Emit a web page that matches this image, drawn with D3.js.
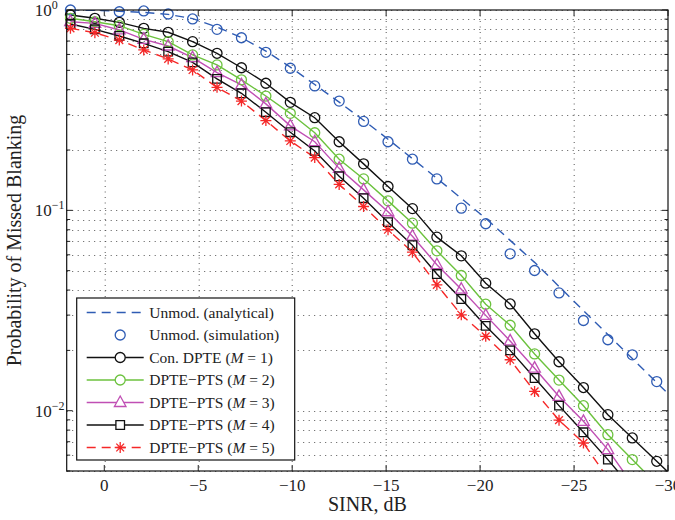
<!DOCTYPE html>
<html>
<head>
<meta charset="utf-8">
<script src="https://cdn.jsdelivr.net/npm/d3@7"></script>
<style>
  body { margin: 0; background: #fff; }
  text { font-family: "Liberation Serif", "Times New Roman", Times, serif; fill: #222; }
</style>
</head>
<body>
<svg id="chart" width="675" height="520" font-family="Liberation Serif, Times New Roman, serif"></svg>
<script>
// SINR sample points (dB), shared by every curve
var sinr = [1.8, 0.5, -0.8, -2.1, -3.4, -4.7, -6.0, -7.3, -8.6, -9.9, -11.2, -12.5, -13.8,
            -15.1, -16.4, -17.7, -19.0, -20.3, -21.6, -22.9, -24.2, -25.5, -26.8, -28.1, -29.4, -30.7];

// Probability of missed blanking
var unmodAnalytical = [1.0, 0.9954, 0.9863, 0.9727, 0.9506, 0.9058, 0.8222, 0.7278, 0.6237, 0.5188,
                       0.4246, 0.3467, 0.2818, 0.2265, 0.1811, 0.1445, 0.1148, 0.0912, 0.0708, 0.0550,
                       0.0417, 0.0316, 0.0240, 0.0182, 0.0138, 0.0105];
var unmodSimulation = [1.0, null, 0.98, 0.989, 0.955, 0.902, 0.801, 0.727, 0.615, 0.512,
                       0.418, 0.351, 0.278, 0.220, 0.180, 0.1435, 0.1025, 0.0857, 0.0607, 0.0501,
                       0.0387, 0.0282, 0.0226, 0.019, 0.01397];
var conDpte = [0.944, 0.909, 0.868, 0.810, 0.774, 0.695, 0.608, 0.515, 0.431, 0.346,
               0.290, 0.220, 0.1706, 0.1315, 0.102, 0.0735, 0.0593, 0.0433, 0.0341, 0.0242,
               0.01755, 0.01305, 0.00955, 0.00731, 0.00559, 0.00428];
var ptsM2 = [0.909, 0.874, 0.835, 0.756, 0.695, 0.597, 0.532, 0.448, 0.372, 0.305,
             0.244, 0.180, 0.1435, 0.1115, 0.0863, 0.0628, 0.0473, 0.0340, 0.0267, 0.0192,
             0.01422, 0.01059, 0.00759, 0.0057, 0.0043];
var ptsM3 = [0.874, 0.858, 0.795, 0.714, 0.661, 0.578, 0.487, 0.423, 0.340, 0.264,
             0.220, 0.162, 0.1265, 0.0984, 0.0743, 0.0535, 0.0404, 0.0299, 0.0223, 0.0163,
             0.01178, 0.00885, 0.00639, 0.0043];
var ptsM4 = [0.851, 0.801, 0.742, 0.682, 0.620, 0.548, 0.453, 0.384, 0.309, 0.2455,
             0.198, 0.148, 0.115, 0.0873, 0.067, 0.0481, 0.0361, 0.0265, 0.020, 0.01456,
             0.0106, 0.0078, 0.0057, 0.0041];
var ptsM5 = [0.810, 0.770, 0.708, 0.632, 0.570, 0.502, 0.411, 0.351, 0.2805, 0.222,
             0.1834, 0.1347, 0.1045, 0.080, 0.0618, 0.0425, 0.0301, 0.0235, 0.01796, 0.01248,
             0.00897, 0.0069, 0.0046];

var xTicks = [0, -5, -10, -15, -20, -25, -30];
var yTicks = [1, 0.1, 0.01];
var yTickExp = ["0", "\u22121", "\u22122"];

// series styling, in drawing order
var series = [
  {values: unmodAnalytical, color: "#2f5cb4", dash: "9,6", line: true,  marker: null},
  {values: unmodSimulation, color: "#2f5cb4", dash: null,  line: false, marker: "circle"},
  {values: conDpte,         color: "#111111", dash: null,  line: true,  marker: "circle"},
  {values: ptsM2,           color: "#6cc23e", dash: null,  line: true,  marker: "circle"},
  {values: ptsM3,           color: "#c04fb4", dash: null,  line: true,  marker: "triangle"},
  {values: ptsM4,           color: "#111111", dash: null,  line: true,  marker: "square"},
  {values: ptsM5,           color: "#f52828", dash: "9,6", line: true,  marker: "star"}
];
var legendLabels = [
  ["Unmod. (analytical)"],
  ["Unmod. (simulation)"],
  ["Con. DPTE (", "M", " = 1)"],
  ["DPTE\u2212PTS (", "M", " = 2)"],
  ["DPTE\u2212PTS (", "M", " = 3)"],
  ["DPTE\u2212PTS (", "M", " = 4)"],
  ["DPTE\u2212PTS (", "M", " = 5)"]
];

var margin = {top: 10, right: 7, bottom: 49, left: 66.7},
    width = 675 - margin.left - margin.right,
    height = 520 - margin.top - margin.bottom;

var svg = d3.select("#chart");
var g = svg.append("g").attr("transform", "translate(" + margin.left + "," + margin.top + ")");

var x = d3.scaleLinear().domain([2, -30]).range([0, width]);
var y = d3.scaleLog().domain([0.005, 1]).range([height, 0]);

// dotted grid
var gridTicks = y.ticks();
g.append("g").selectAll("line").data(gridTicks).enter().append("line")
  .attr("x1", 0).attr("x2", width)
  .attr("y1", function(d) { return Math.round(y(d)) + 0.5; })
  .attr("y2", function(d) { return Math.round(y(d)) + 0.5; })
  .attr("stroke", "#555").attr("stroke-width", 1).attr("stroke-dasharray", "1,4.5");
g.append("g").selectAll("line").data(xTicks.slice(0, -1)).enter().append("line")
  .attr("x1", function(d) { return Math.round(x(d)) + 0.5; })
  .attr("x2", function(d) { return Math.round(x(d)) + 0.5; })
  .attr("y1", 0).attr("y2", height)
  .attr("stroke", "#555").attr("stroke-width", 1).attr("stroke-dasharray", "1,4.5");

// inward ticks on all four sides
var isMajor = function(d) { return Math.abs(Math.log10(d) - Math.round(Math.log10(d))) < 1e-6; };
var ticks = g.append("g").attr("stroke", "#222").attr("stroke-width", 1);
gridTicks.forEach(function(d) {
  var len = isMajor(d) ? 6 : 3.5;
  ticks.append("line").attr("x1", 0).attr("x2", len).attr("y1", y(d)).attr("y2", y(d));
  ticks.append("line").attr("x1", width).attr("x2", width - len).attr("y1", y(d)).attr("y2", y(d));
});
xTicks.forEach(function(d) {
  ticks.append("line").attr("x1", x(d)).attr("x2", x(d)).attr("y1", height).attr("y2", height - 6);
  ticks.append("line").attr("x1", x(d)).attr("x2", x(d)).attr("y1", 0).attr("y2", 6);
});

// x tick labels
g.append("g").selectAll("text").data(xTicks).enter().append("text")
  .attr("x", function(d) { return x(d); })
  .attr("y", height + 20)
  .attr("text-anchor", "middle")
  .attr("font-size", 17)
  .text(function(d) { return d === 0 ? "0" : "\u2212" + Math.abs(d); });

// y tick labels 10^k
yTicks.forEach(function(d, i) {
  var t = g.append("text").attr("x", -32).attr("y", y(d) + 6).attr("font-size", 17);
  t.append("tspan").text("10");
  t.append("tspan").attr("dy", -7).attr("font-size", 12).text(yTickExp[i]);
});

// curves, clipped to the axes box
svg.append("clipPath").attr("id", "plotclip").append("rect")
  .attr("width", width).attr("height", height);
var plot = g.append("g").attr("clip-path", "url(#plotclip)");
var inside = g.append("g");

function markerPath(type) {
  if (type === "triangle") return "M0,-6.5L5.8,4L-5.8,4Z";
  if (type === "square") return "M-4.3,-4.3H4.3V4.3H-4.3Z";
  if (type === "star") return "M-5.5,0H5.5M0,-5.5V5.5M-3.9,-3.9L3.9,3.9M-3.9,3.9L3.9,-3.9";
  return "M5,0A5,5 0 1,1 -5,0A5,5 0 1,1 5,0Z";
}

var line = d3.line()
  .defined(function(d) { return d[1] != null; })
  .x(function(d) { return x(d[0]); })
  .y(function(d) { return y(d[1]); });

series.forEach(function(s) {
  var pts = s.values.map(function(v, i) { return [sinr[i], v]; });
  if (s.line) {
    plot.append("path").datum(pts)
      .attr("d", line)
      .attr("fill", "none")
      .attr("stroke", s.color)
      .attr("stroke-width", 1.4)
      .attr("stroke-dasharray", s.dash);
  }
  if (s.marker) {
    var shown = pts.filter(function(p) {
      return p[1] != null && p[1] >= 0.005 && p[1] <= 1 && p[0] <= 2 && p[0] >= -30;
    });
    inside.selectAll(null).data(shown).enter().append("path")
      .attr("transform", function(p) { return "translate(" + x(p[0]) + "," + y(p[1]) + ")"; })
      .attr("d", markerPath(s.marker))
      .attr("fill", "none")
      .attr("stroke", s.color)
      .attr("stroke-width", 1.3);
  }
});

// axes box
g.append("rect").attr("width", width).attr("height", height)
  .attr("fill", "none").attr("stroke", "#111").attr("stroke-width", 1.2);

// legend
var lg = g.append("g").attr("transform", "translate(10,288)");
lg.append("rect").attr("width", 218).attr("height", 162)
  .attr("fill", "#fff").attr("stroke", "#111").attr("stroke-width", 1.2);
series.forEach(function(s, i) {
  var ry = 14.5 + i * 22.5;
  if (s.line) {
    lg.append("line").attr("x1", 10).attr("x2", 67).attr("y1", ry).attr("y2", ry)
      .attr("stroke", s.color).attr("stroke-width", 1.4).attr("stroke-dasharray", s.dash);
  }
  if (s.marker) {
    lg.append("path").attr("transform", "translate(" + 43.5 + "," + ry + ")")
      .attr("d", markerPath(s.marker)).attr("fill", s.line ? "#fff" : "none")
      .attr("stroke", s.color).attr("stroke-width", 1.3);
  }
  var t = lg.append("text").attr("x", 72.5).attr("y", ry + 5).attr("font-size", 15.5);
  legendLabels[i].forEach(function(part, j) {
    var sp = t.append("tspan").text(part);
    if (j === 1) sp.attr("font-style", "italic");
  });
});

// axis titles
svg.append("text")
  .attr("x", margin.left + width / 2).attr("y", 511)
  .attr("text-anchor", "middle").attr("font-size", 20)
  .text("SINR, dB");
svg.append("text")
  .attr("transform", "translate(21," + (margin.top + height / 2) + ") rotate(-90)")
  .attr("text-anchor", "middle").attr("font-size", 20)
  .text("Probability of Missed Blanking");
</script>
</body>
</html>
